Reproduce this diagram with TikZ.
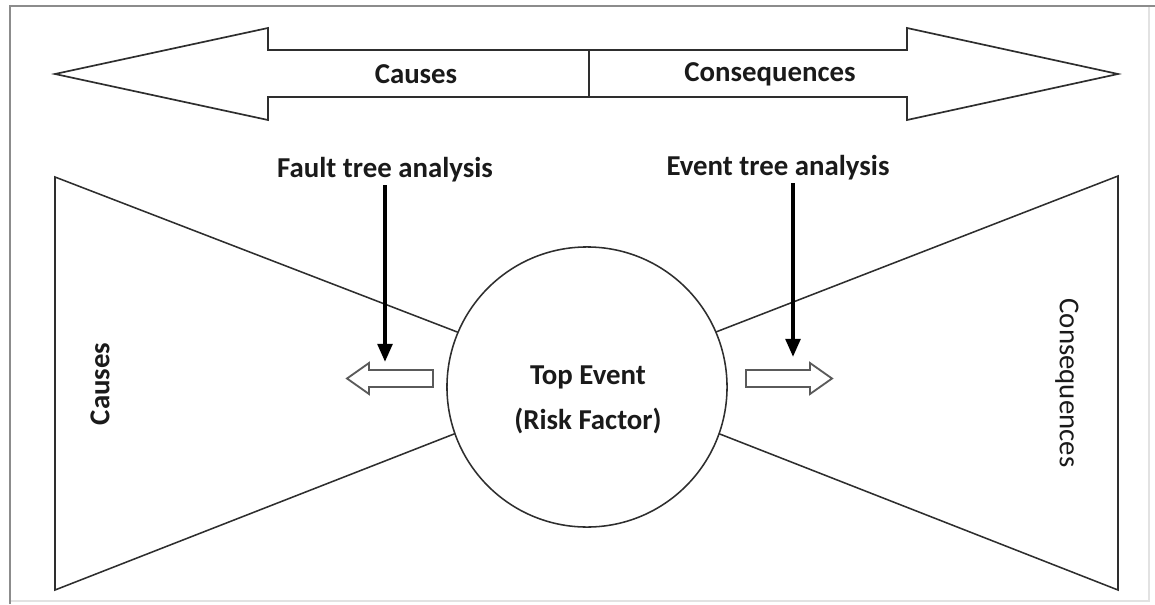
\documentclass[tikz,border=0pt]{standalone}
\usepackage{fontspec}
\setmainfont{Carlito}
\usepackage{xcolor}
\definecolor{cLine}{HTML}{2E2E2E}
\definecolor{cFrame}{HTML}{8C8C8C}
\definecolor{cFaint}{HTML}{E2E2E2}
\definecolor{cGray}{HTML}{5A5A5A}
\definecolor{cText}{HTML}{1A1A1A}
\usetikzlibrary{arrows.meta,positioning}
\tikzset{
  frame-line/.style={draw=cFrame,line width=1.8pt},
  frame-faint/.style={draw=cFaint,line width=1pt},
  bow-line/.style={draw=cLine,line width=1.1pt,line join=miter},
  big-arrow/.style={draw=cLine,line width=1.2pt,line join=miter},
  block-arrow/.style={draw=cGray,line width=1.3pt,fill=white,line join=miter},
  hub-circle/.style={circle,draw=cLine,line width=1.1pt,fill=white,
    minimum size=7cm,inner sep=0pt},
  label-bold/.style={font=\fontsize{20.5}{24}\selectfont\bfseries,text=cText,inner sep=2pt},
  label-plain/.style={font=\fontsize{20.5}{24}\selectfont,text=cText,inner sep=2pt},
  tree-arrow/.style={-{Triangle[length=0.45cm,width=0.36cm]},line width=2.8pt,draw=black},
}
\begin{document}
\begin{tikzpicture}[x=0.025cm,y=-0.025cm]
  \useasboundingbox (0,0) rectangle (1155,604);
  % frame
  \draw[frame-faint] (10,601) -- (1149,601) -- (1149,6);
  \draw[frame-line] (10,604) -- (10,6) -- (1155,6);
  % top double arrow
  \draw[big-arrow] (55,74) -- (268,28) -- (268,50) -- (907,50) -- (907,28)
    -- (1118,74) -- (907,120) -- (907,97) -- (268,97) -- (268,120) -- cycle;
  \draw[big-arrow] (589,50) -- (589,97);
  \node[label-bold] (top-causes) at (416,74) {Causes};
  \node[label-bold] (top-conseq) at (770,74) {Consequences};
  % bow tie
  \coordinate (apex) at (587,382);
  \draw[bow-line] (55,177) -- (apex) -- (55,590) -- cycle;
  \draw[bow-line] (1118,176) -- (apex) -- (1118,590) -- cycle;
  \node[hub-circle] (hub) at (587,387) {};
  \node[label-bold,align=center] (hub-text) at (588,400) {Top Event\\[8pt](Risk Factor)};
  \node[label-bold,rotate=90] (side-causes) at (100,384) {Causes};
  \node[label-plain,rotate=-90] (side-conseq) at (1067,383) {Consequences};
  % analysis arrows
  \node[label-bold] (fta) at (385,170) {Fault tree analysis};
  \node[label-bold] (eta) at (778,168) {Event tree analysis};
  \coordinate (fta-tip) at (385,362);
  \coordinate (eta-tip) at (793,357);
  \draw[tree-arrow] (fta.south -| fta-tip) -- (fta-tip);
  \draw[tree-arrow] (eta.south -| eta-tip) -- (eta-tip);
  \draw[block-arrow] (433,370) -- (369,370) -- (369,363) -- (347,378.5)
    -- (369,394) -- (369,387) -- (433,387) -- cycle;
  \draw[block-arrow] (746,370) -- (810,370) -- (810,363) -- (832,378.5)
    -- (810,394) -- (810,387) -- (746,387) -- cycle;
\end{tikzpicture}
\end{document}
